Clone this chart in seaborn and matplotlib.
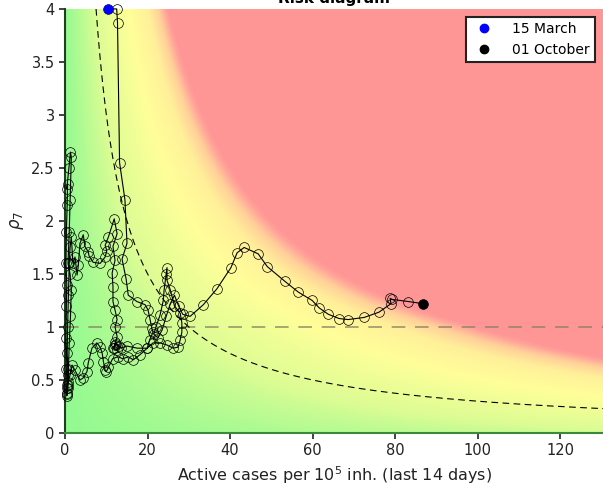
import numpy as np
import pandas as pd
import matplotlib
matplotlib.use("Agg")
import matplotlib.pyplot as plt
import seaborn as sns
from matplotlib.colors import LinearSegmentedColormap
from matplotlib.lines import Line2D

# daily trajectory, 15 March -> 01 October
active_cases = [
    10.5, 12.5, 12.7, 13.2, 14.5, 15.0, 13.8, 14.8, 15.3, 17.4, 19.4, 20.1, 20.6, 21.0, 21.3,
    20.5, 19.9, 18.2, 16.5, 15.3, 14.0, 12.8, 11.5, 10.5, 10.0, 9.7, 9.3, 9.0, 8.5, 7.7,
    6.5, 5.6, 5.3, 4.4, 3.6, 2.4, 1.7, 1.2, 0.8, 0.6, 0.5, 0.4,
    0.5, 0.3, 0.2, 0.3, 0.4, 0.2, 0.3, 0.5, 0.6, 0.4, 0.9, 1.3, 1.5, 1.2, 1.0, 0.7,
    1.2, 1.5, 1.3, 1.0, 0.8, 0.6, 0.5, 0.4, 0.7, 0.5, 0.6, 0.8, 1.0, 1.2, 1.5, 1.9,
    2.4, 2.9, 3.2, 3.6, 4.4, 4.8, 5.6, 5.8, 6.8, 8.5, 9.7, 10.1, 9.7, 10.5, 11.9, 12.6,
    11.6, 12.1, 11.4, 11.6, 11.6, 12.1, 12.6, 12.1, 12.6, 12.1, 11.5, 12.5, 13.0, 12.2,
    11.8, 12.4, 13.5, 15.0, 17.5, 19.9, 21.3, 23.0, 24.7, 26.2, 27.4, 27.9, 28.3, 28.3,
    27.9, 26.5, 25.5, 24.7, 24.7, 24.5, 24.0, 23.8, 23.0, 22.0, 21.5, 22.5, 23.5, 24.5,
    25.5, 26.5, 27.5, 28.5, 30.3, 33.5, 36.8, 40.2, 41.7, 43.4, 46.8, 49.0, 53.3, 56.5,
    59.9, 61.6, 63.8, 66.4, 68.6, 72.5, 76.1, 79.0, 78.8, 79.3, 83.2, 86.8,
]
rho7 = [
    4.00, 4.00, 3.87, 2.55, 2.20, 1.79, 1.64, 1.45, 1.30, 1.24, 1.21, 1.16, 1.07, 0.99, 0.95,
    0.88, 0.80, 0.74, 0.69, 0.72, 0.70, 0.72, 0.70, 0.62, 0.58, 0.59, 0.67, 0.75, 0.81, 0.85,
    0.80, 0.66, 0.58, 0.52, 0.50, 0.59, 0.64, 0.55, 0.48, 0.42, 0.37, 0.35,
    0.45, 0.60, 0.90, 1.20, 1.40, 1.60, 1.90, 2.15, 2.35, 2.30, 2.50, 2.65, 2.60, 2.20, 1.90, 1.60,
    1.50, 1.35, 1.10, 0.85, 0.60, 0.45, 0.38, 0.42, 0.55, 0.75, 1.00, 1.30, 1.60, 1.75, 1.85, 1.60,
    1.66, 1.49, 1.58, 1.79, 1.87, 1.76, 1.71, 1.67, 1.61, 1.60, 1.66, 1.72, 1.77, 1.85, 2.02, 1.88,
    1.76, 1.63, 1.51, 1.38, 1.24, 1.16, 1.07, 1.00, 0.91, 0.83, 0.80, 0.78, 0.82, 0.86,
    0.80, 0.84, 0.80, 0.82, 0.80, 0.80, 0.85, 0.85, 0.83, 0.80, 0.81, 0.88, 0.95, 1.04,
    1.13, 1.20, 1.35, 1.44, 1.56, 1.50, 1.35, 1.25, 1.11, 1.00, 0.93, 0.90, 0.97, 1.10,
    1.22, 1.30, 1.20, 1.12, 1.10, 1.21, 1.36, 1.56, 1.70, 1.75, 1.69, 1.57, 1.43, 1.33,
    1.25, 1.18, 1.12, 1.08, 1.07, 1.09, 1.14, 1.22, 1.27, 1.26, 1.24, 1.22,
]
legend_labels = ["15 March", "01 October"]
epg_threshold = 30

df = pd.DataFrame({"cases": active_cases, "rho": rho7, "day": range(len(rho7))})

x_max, y_max = 130.4, 4.0

fig = plt.figure(figsize=(6.03, 4.88), dpi=100)
ax = fig.add_axes([0.108, 0.1127, 0.892, 0.869])

# background risk map
gx = np.linspace(0, x_max, 400)
gy = np.linspace(0, y_max, 300)
X, Y = np.meshgrid(gx, gy)
risk = X * (Y + 0.2 * np.clip(1 - Y, 0, None))
risk_cmap = LinearSegmentedColormap.from_list("risk", [
    (0.0, (0.58, 0.98, 0.57)),
    (0.3, (0.87, 0.99, 0.58)),
    (0.6, (1.0, 1.0, 0.6)),
    (0.8, (1.0, 0.94, 0.6)),
    (0.9, (1.0, 0.82, 0.6)),
    (0.97, (1.0, 0.64, 0.6)),
    (1.0, (1.0, 0.59, 0.59)),
])
ax.imshow(risk, extent=[0, x_max, 0, y_max], origin="lower", aspect="auto",
          cmap=risk_cmap, vmin=0, vmax=100, interpolation="bilinear", zorder=0)

# reference lines
ax.axhline(1, color="#8a8060", alpha=0.7, lw=1.4, dashes=(7, 5), zorder=1)
cx = np.linspace(epg_threshold / y_max, x_max, 300)
ax.plot(cx, epg_threshold / cx, color="k", lw=0.8, dashes=(6, 4), zorder=1)

sns.lineplot(data=df, x="cases", y="rho", sort=False, estimator=None, ax=ax,
             color="k", lw=0.8, marker="o", markersize=7,
             markerfacecolor="none", markeredgecolor="k", markeredgewidth=0.5,
             clip_on=False, zorder=3)
ax.plot(active_cases[0], rho7[0], "o", color="#0000ff", ms=6, clip_on=False, zorder=4)
ax.plot(active_cases[-1], rho7[-1], "o", color="k", ms=6, clip_on=False, zorder=4)

ax.set_xlim(0, x_max)
ax.set_ylim(0, y_max)
ax.set_xticks(range(0, 121, 20))
ax.set_yticks(np.arange(0, 4.01, 0.5))
ax.set_yticklabels(["0", "0.5", "1", "1.5", "2", "2.5", "3", "3.5", "4"])
ax.tick_params(labelsize=10.5, colors="#222222", length=4, width=1.2)
for s in ["top", "right"]:
    ax.spines[s].set_visible(False)
ax.spines["left"].set_color("#1f3f1f")
ax.spines["bottom"].set_color("#3a8a3a")
ax.spines["left"].set_linewidth(1.5)
ax.spines["bottom"].set_linewidth(1.5)

ax.set_xlabel("Active cases per 10$^5$ inh. (last 14 days)", fontsize=11.5, color="#222222")
ax.set_ylabel(r"$\rho_7$", fontsize=12, color="#222222")
# title sits mostly above the figure edge, as in the reference
ax.set_title("Risk diagram", fontsize=11, fontweight="bold", pad=4)

handles = [
    Line2D([], [], marker="o", ls="none", color="#0000ff", ms=6),
    Line2D([], [], marker="o", ls="none", color="k", ms=6),
]
leg = ax.legend(handles, legend_labels, loc="upper right", fontsize=10,
                fancybox=False, framealpha=1, edgecolor="#222222",
                borderaxespad=0.6, handletextpad=1.0, borderpad=0.35)
leg.get_frame().set_linewidth(1.5)

fig.savefig("out.png", dpi=100)
